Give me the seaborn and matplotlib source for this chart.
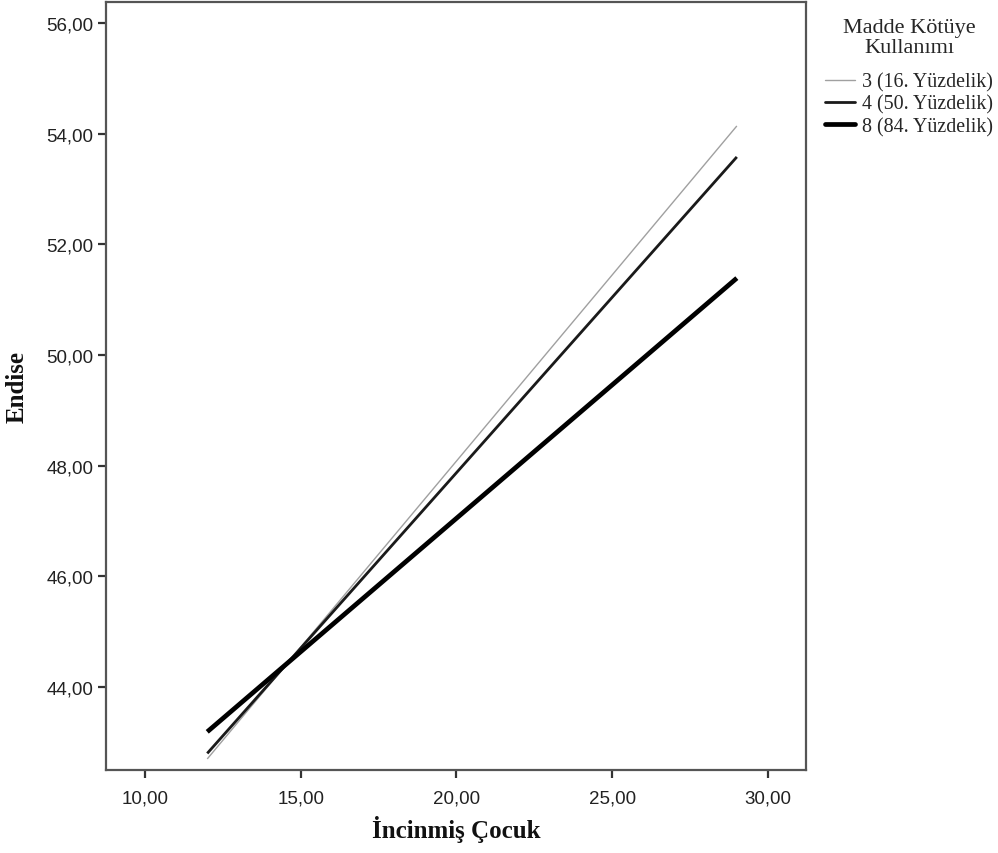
import matplotlib
matplotlib.use("Agg")
import matplotlib.pyplot as plt
import seaborn as sns
import pandas as pd
from matplotlib.lines import Line2D
from matplotlib.ticker import FuncFormatter

# Data
groups = ["3 (16. Yüzdelik)", "4 (50. Yüzdelik)", "8 (84. Yüzdelik)"]
x_vals = [12.0, 29.0]
y_g3 = [42.70, 54.14]
y_g4 = [42.80, 53.58]
y_g8 = [43.19, 51.39]
x_ticks = [10, 15, 20, 25, 30]
y_ticks = [44, 46, 48, 50, 52, 54, 56]

colors = {groups[0]: "#a0a0a0", groups[1]: "#1a1a1a", groups[2]: "#000000"}
widths = {groups[0]: 1.0, groups[1]: 2.0, groups[2]: 3.4}

df = pd.DataFrame({
    "İncinmiş Çocuk": x_vals * 3,
    "Endise": y_g3 + y_g4 + y_g8,
    "grp": [groups[0]] * 2 + [groups[1]] * 2 + [groups[2]] * 2,
})

sns.set_theme(style="white")
fig = plt.figure(figsize=(9.98, 8.54), dpi=100)
ax = fig.add_axes([106 / 998, 1 - 771 / 854, (806 - 106) / 998, (771 - 3) / 854])

sns.lineplot(data=df, x="İncinmiş Çocuk", y="Endise", hue="grp", palette=colors,
             size="grp", sizes=widths, ax=ax, legend=False)
for ln in ax.lines:
    ln.set_solid_capstyle("butt")

ax.set_xlim(8.75, 31.22)
ax.set_ylim(42.5, 56.38)
ax.set_xticks(x_ticks)
ax.set_yticks(y_ticks)
fmt = FuncFormatter(lambda v, p: f"{v:.2f}".replace(".", ","))
ax.xaxis.set_major_formatter(fmt)
ax.yaxis.set_major_formatter(fmt)

for s in ax.spines.values():
    s.set_color("#555555")
    s.set_linewidth(1.6)
    s.set_visible(True)

ax.tick_params(axis="both", which="major", direction="out", length=6, width=1.6,
               color="#333333", labelsize=13.5, labelcolor="#222222",
               bottom=True, left=True, top=False, right=False)
ax.tick_params(axis="x", pad=8)
ax.tick_params(axis="y", pad=3)
for lab in ax.get_xticklabels() + ax.get_yticklabels():
    lab.set_fontfamily("Liberation Sans")

ax.set_xlabel("İncinmiş Çocuk", fontfamily="Liberation Serif", fontweight="bold",
              fontsize=18, labelpad=6, color="#111111")
ax.set_ylabel("Endise", fontfamily="Liberation Serif", fontweight="bold",
              fontsize=18, labelpad=13, color="#111111")

handles = [Line2D([0], [0], color=colors[g], lw=widths[g]) for g in groups]
leg = fig.legend(handles, groups, loc="upper left", bbox_to_anchor=(825 / 998, 1 - 19 / 854),
                 title="Madde Kötüye\nKullanımı", frameon=False,
                 prop={"family": "Liberation Serif", "size": 14.4},
                 handlelength=1.5, handletextpad=0.35, labelspacing=0.14,
                 borderaxespad=0, borderpad=0)
leg.get_title().set_fontfamily("Liberation Serif")
leg.get_title().set_fontsize(16)
leg.get_title().set_multialignment("center")
leg.get_title().set_linespacing(1.1)
leg._legend_box.align = "center"
leg._legend_box.sep = 11

fig.savefig("out.png", dpi=100)
